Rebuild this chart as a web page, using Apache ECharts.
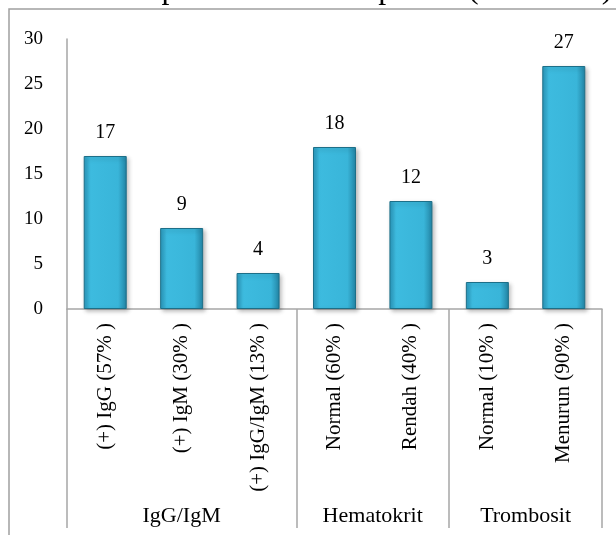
<!DOCTYPE html>
<html>
<head>
<meta charset="utf-8">
<script src="https://cdn.jsdelivr.net/npm/echarts@6/dist/echarts.min.js"></script>
<style>
  html, body { margin: 0; padding: 0; background: #fff; }
  #chart { width: 616px; height: 535px; }
</style>
</head>
<body>
<div id="chart"></div>
<script>
const categories = [
  "(+) IgG (57% )", "(+) IgM (30% )", "(+) IgG/IgM (13% )",
  "Normal (60% )", "Rendah (40% )",
  "Normal (10% )", "Menurun (90% )"
];
const counts = [17, 9, 4, 18, 12, 3, 27];
const groupNames = ["IgG/IgM", "Hematokrit", "Trombosit"];
const groupCenters = [1.5, 4, 6];
const groupEdges = [0, 3, 5, 7];
const yTicks = [0, 5, 10, 15, 20, 25, 30];

const serif = "'Liberation Serif', 'Times New Roman', serif";
const lineColor = "#a6a6a6";

const chart = echarts.init(document.getElementById("chart"));

chart.setOption({
  backgroundColor: "#fff",
  animation: false,
  graphic: [
    {
      // title is clipped by the top of the picture, only descenders show
      type: "text",
      left: 86,
      top: -26,
      style: {
        text: "Hasil pemeriksaan lab pasien (total = 30)",
        font: "32px " + serif,
        fill: "#000",
      },
    },
    {
      type: "rect",
      shape: { x: 9, y: 9, width: 700, height: 600 },
      style: { fill: "none", stroke: "#a0a0a0", lineWidth: 1.5 },
    },
  ],
  grid: { left: 67, right: 14, top: 39, bottom: 226 },
  xAxis: [
    {
      type: "category",
      data: categories,
      axisLine: { lineStyle: { color: lineColor, width: 1.5 } },
      axisTick: { show: false },
      axisLabel: {
        rotate: 90,
        margin: 14,
        color: "#000",
        fontFamily: serif,
        fontSize: 21,
      },
    },
    {
      type: "value",
      position: "bottom",
      min: 0,
      max: 7,
      axisLine: { show: false },
      splitLine: { show: false },
      axisTick: {
        show: true,
        customValues: groupEdges,
        length: 219,
        lineStyle: { color: lineColor, width: 1.5 },
      },
      axisLabel: {
        customValues: groupCenters,
        margin: 196,
        color: "#000",
        fontFamily: serif,
        fontSize: 22,
        formatter: (v) => groupNames[groupCenters.indexOf(v)],
      },
    },
  ],
  yAxis: {
    type: "value",
    min: yTicks[0],
    max: yTicks[yTicks.length - 1],
    interval: 5,
    axisLine: { show: true, lineStyle: { color: lineColor, width: 1.5 } },
    axisTick: { show: false },
    splitLine: { show: false },
    axisLabel: {
      margin: 24,
      color: "#000",
      fontFamily: serif,
      fontSize: 19,
    },
  },
  series: [
    {
      type: "bar",
      xAxisIndex: 0,
      data: counts,
      barWidth: 43,
      itemStyle: {
        color: new echarts.graphic.LinearGradient(0, 0, 1, 0, [
          { offset: 0, color: "#2a98bc" },
          { offset: 0.15, color: "#3dbbdf" },
          { offset: 0.8, color: "#39b5d9" },
          { offset: 1, color: "#2283a3" },
        ]),
        borderColor: "#1d6f88",
        borderWidth: 1,
        shadowBlur: 4,
        shadowOffsetX: 2,
        shadowOffsetY: 2,
        shadowColor: "rgba(0,0,0,0.25)",
      },
      label: {
        show: true,
        position: "top",
        distance: 13,
        color: "#000",
        fontFamily: serif,
        fontSize: 20,
      },
    },
  ],
});
</script>
</body>
</html>
